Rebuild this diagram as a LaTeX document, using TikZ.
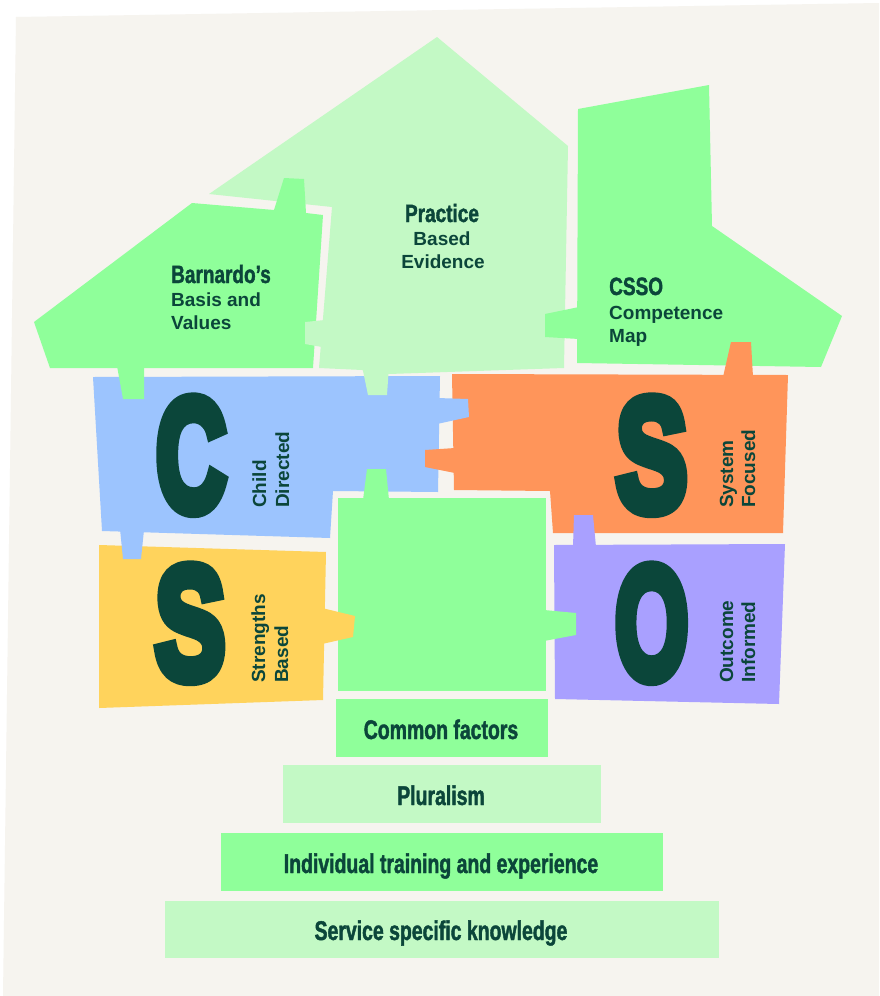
\documentclass[tikz,border=0pt]{standalone}
\usepackage{fontspec}
\usepackage{graphicx}
\setmainfont{Liberation Sans}
\newfontfamily\headfont[FakeStretch=0.76,FakeBold=1.5]{Liberation Sans}
\newfontfamily\barfont[FakeStretch=0.72,FakeBold=1.5]{Liberation Sans}
\newfontfamily\bigfont[FakeBold=8]{Liberation Sans}
\newfontfamily\bodyfont{Liberation Sans}
\definecolor{paper}{HTML}{F6F4EF}
\definecolor{bgreen}{HTML}{8FFF9A}
\definecolor{lgreen}{HTML}{C3F9C5}
\definecolor{cblue}{HTML}{9CC4FE}
\definecolor{corange}{HTML}{FF955A}
\definecolor{cyellow}{HTML}{FFD35C}
\definecolor{cpurple}{HTML}{A9A0FF}
\definecolor{ink}{HTML}{0B463A}
\tikzset{
  head/.style={font={\headfont\bfseries\fontsize{25}{25}\selectfont}, text=ink, inner sep=0pt},
  body/.style={font={\bodyfont\bfseries\fontsize{19}{19}\selectfont}, text=ink, inner sep=0pt},
  rot/.style={body, rotate=90, anchor=base west},
  bar/.style={font={\barfont\bfseries\fontsize{27}{27}\selectfont}, text=ink, inner sep=0pt, anchor=base},
  big/.style={inner sep=0pt, anchor=south west, text=ink},
}
\newcommand{\bigletter}[3]{\resizebox*{#1}{#2}{\bigfont\bfseries #3}}
\begin{document}
\begin{tikzpicture}[x=1pt,y=-1pt]
\useasboundingbox (0,0) rectangle (879,996);
\fill[white] (0,0) rectangle (879,996);
\fill[paper] (16,17) -- (879,3) -- (879,996) -- (3,996) -- cycle;
% bodies
\fill[lgreen] (437,37) -- (568,146) -- (564,368) -- (389,374) -- (362,370) -- (319,368) -- (332,207) -- (209,194) -- cycle;
\fill[bgreen] (34,322) -- (192,203) -- (274,210) -- (284,178) -- (304,179) -- (306,213) -- (323,215) -- (313,368) -- (50,368) -- cycle;
\fill[bgreen] (578,109) -- (709,85) -- (712,226) -- (842,316) -- (821,367) -- (577,363) -- cycle;
\fill[cblue] (93,377) -- (440,376) -- (438,492) -- (333,491) -- (330,538) -- (102,531) -- cycle;
\fill[corange] (452,374) -- (788,375) -- (783,533) -- (553,533) -- (550,491) -- (454,490) -- cycle;
\fill[cyellow] (99,545) -- (326,552) -- (323,700) -- (99,708) -- cycle;
\fill[bgreen] (338,498) -- (546,498) -- (546,691) -- (338,691) -- cycle;
\fill[cpurple] (554,545) -- (785,544) -- (779,704) -- (555,699) -- cycle;
% tabs
\fill[bgreen] (117,366) -- (123,399) -- (144,399) -- (144,366) -- cycle;
\fill[lgreen] (325,320) -- (305,322) -- (305,344) -- (322,347) -- cycle;
\fill[lgreen] (362,366) -- (368,395) -- (387,395) -- (389,366) -- cycle;
\fill[bgreen] (579,307) -- (545,314) -- (545,337) -- (579,339) -- cycle;
\fill[corange] (723,377) -- (731,342) -- (751,342) -- (753,377) -- cycle;
\fill[cblue] (437,398) -- (468,399) -- (469,417) -- (437,424) -- cycle;
\fill[corange] (455,448) -- (425,450) -- (425,467) -- (455,473) -- cycle;
\fill[bgreen] (363,500) -- (367,469) -- (386,469) -- (389,500) -- cycle;
\fill[cblue] (120,529) -- (123,559) -- (141,559) -- (144,530) -- cycle;
\fill[cyellow] (322,608) -- (355,616) -- (353,637) -- (322,644) -- cycle;
\fill[bgreen] (544,610) -- (576,613) -- (576,635) -- (544,641) -- cycle;
\fill[cpurple] (573,547) -- (574,515) -- (593,515) -- (596,547) -- cycle;
% bars
\fill[bgreen] (336,699) rectangle (548,757);
\fill[lgreen] (283,765) rectangle (601,823);
\fill[bgreen] (221,833) rectangle (663,891);
\fill[lgreen] (165,901) rectangle (719,958);
% texts
\node[head, anchor=base west] (b1) at (171,283) {Barnardo’s};
\node[body, anchor=base west] (b2) at (171,306) {Basis and};
\node[body, anchor=base west] (b3) at (171,329) {Values};
\node[head, anchor=base] (p1) at (442,222) {Practice};
\node[body, anchor=base] (p2) at (442,245) {Based};
\node[body, anchor=base] (p3) at (443,268) {Evidence};
\node[head, anchor=base west] (c1) at (609,295) {CSSO};
\node[body, anchor=base west] (c2) at (609,319) {Competence};
\node[body, anchor=base west] (c3) at (609,342) {Map};
\node[big] (bigC) at (156,512) {\bigletter{70pt}{113pt}{C}};
\node[big] (bigS1) at (155,680) {\bigletter{70pt}{113pt}{S}};
\node[big] (bigS2) at (616,512) {\bigletter{71pt}{113pt}{S}};
\node[big] (bigO) at (615,680) {\bigletter{73pt}{113pt}{O}};
\node[rot] (r1) at (266,508) {Child};
\node[rot] (r2) at (289,508) {Directed};
\node[rot] (r3) at (265,683) {Strengths};
\node[rot] (r4) at (288,683) {Based};
\node[rot] (r5) at (733,508) {System};
\node[rot] (r6) at (755,508) {Focused};
\node[rot] (r7) at (733,683) {Outcome};
\node[rot] (r8) at (755,683) {Informed};
\node[bar] (t1) at (441,739) {Common factors};
\node[bar] (t2) at (441,805) {Pluralism};
\node[bar] (t3) at (441,873) {Individual training and experience};
\node[bar] (t4) at (441,940) {Service specific knowledge};
\end{tikzpicture}
\end{document}
